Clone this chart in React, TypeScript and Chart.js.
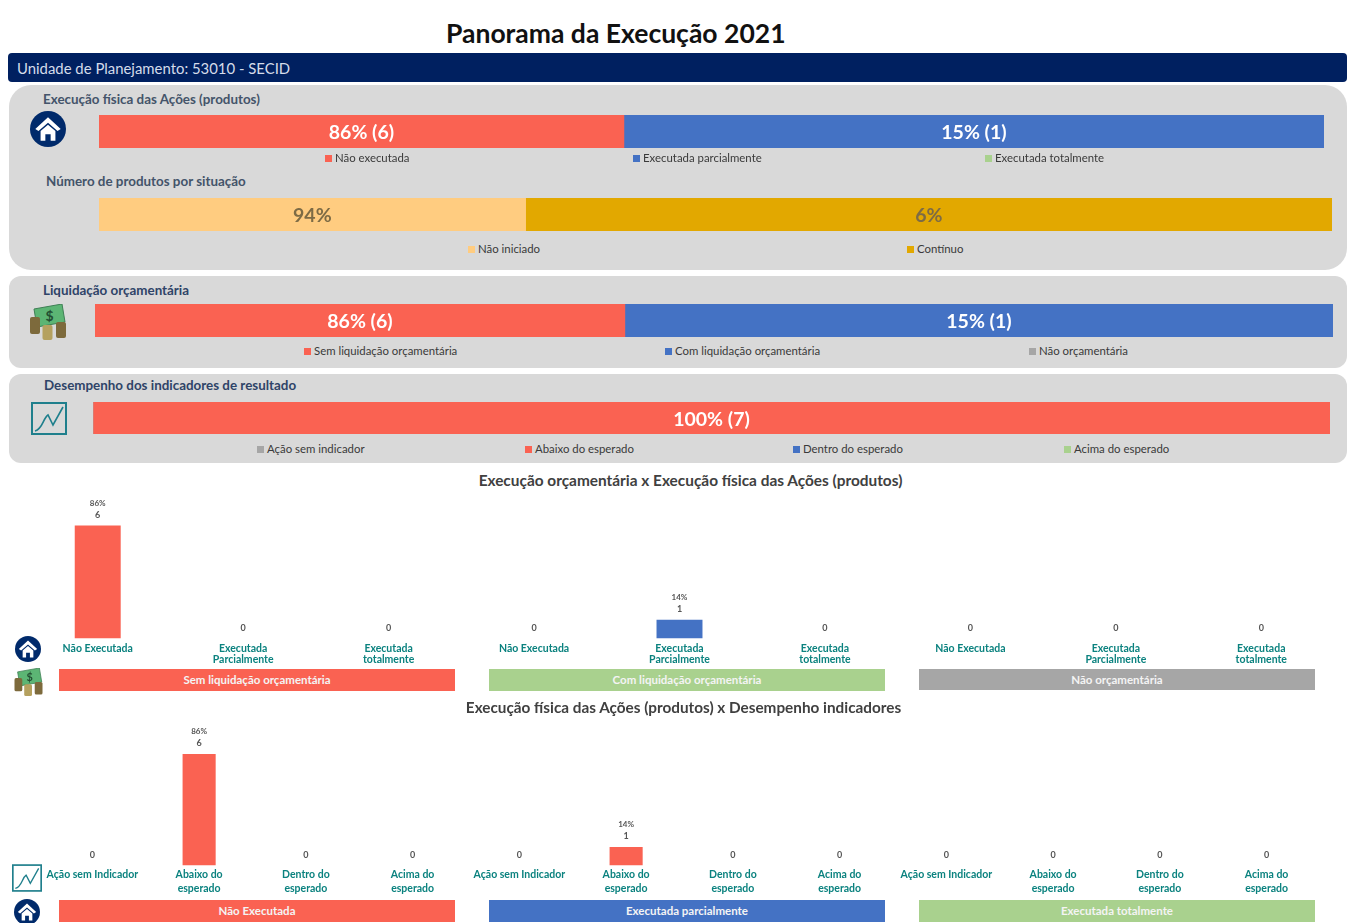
import React, { useEffect, useRef } from "react";
import { Chart, registerables } from "chart.js";

Chart.register(...registerables);

const FONT = "Lato, 'Open Sans', sans-serif";
const RED = "#fa6252";
const BLUE = "#4472c4";
const GREEN = "#a9d18e";
const GREY = "#a6a6a6";
const PALE = "#ffcc80";
const AMBER = "#e2a800";

// Stacked bars: the drawn lengths (they do not follow the printed percentages)
const execNames = ["Não executada", "Executada parcialmente", "Executada totalmente"];
const execLengths = [42.85, 57.15, 0];
const execLabels = ["86% (6)", "15% (1)", ""];

const statusNames = ["Não iniciado", "Contínuo"];
const statusLengths = [34.6, 65.4];
const statusLabels = ["94%", "6%"];

const liquidNames = ["Sem liquidação orçamentária", "Com liquidação orçamentária", "Não orçamentária"];
const liquidLengths = [42.8, 57.2, 0];
const liquidLabels = ["86% (6)", "15% (1)", ""];

const indicatorNames = ["Ação sem indicador", "Abaixo do esperado", "Dentro do esperado", "Acima do esperado"];
const indicatorLengths = [0, 100, 0, 0];
const indicatorLabels = ["", "100% (7)", "", ""];

// First column chart
const budgetCategories = [
  ["Não Executada"], ["Executada", "Parcialmente"], ["Executada", "totalmente"],
  ["Não Executada"], ["Executada", "Parcialmente"], ["Executada", "totalmente"],
  ["Não Executada"], ["Executada", "Parcialmente"], ["Executada", "totalmente"],
];
const budgetValues = [6, 0, 0, 0, 1, 0, 0, 0, 0];
const budgetPercents = ["86%", "", "", "", "14%", "", "", "", ""];
const budgetColors = [RED, RED, RED, BLUE, BLUE, BLUE, GREY, GREY, GREY];
const budgetGroups = ["Sem liquidação orçamentária", "Com liquidação orçamentária", "Não orçamentária"];

// Second column chart
const physicalCategories = [
  ["Ação sem Indicador"], ["Abaixo do", "esperado"], ["Dentro do", "esperado"], ["Acima do", "esperado"],
  ["Ação sem Indicador"], ["Abaixo do", "esperado"], ["Dentro do", "esperado"], ["Acima do", "esperado"],
  ["Ação sem Indicador"], ["Abaixo do", "esperado"], ["Dentro do", "esperado"], ["Acima do", "esperado"],
];
const physicalValues = [0, 6, 0, 0, 0, 1, 0, 0, 0, 0, 0, 0];
const physicalPercents = ["", "86%", "", "", "", "14%", "", "", "", "", "", ""];
const physicalGroups = ["Não Executada", "Executada parcialmente", "Executada totalmente"];

const segmentTextPlugin = {
  id: "segmentText",
  afterDatasetsDraw(chart: any, _a: any, opts: any) {
    const { ctx } = chart;
    ctx.save();
    ctx.font = `bold ${opts.size}px ${FONT}`;
    ctx.fillStyle = opts.color;
    ctx.textAlign = "center";
    ctx.textBaseline = "middle";
    chart.data.datasets.forEach((_d: any, i: number) => {
      const text = opts.labels[i];
      if (!text) return;
      const bar = chart.getDatasetMeta(i).data[0];
      ctx.fillText(text, (bar.x + bar.base) / 2, bar.y + 1.5);
    });
    ctx.restore();
  },
};

const columnTextPlugin = {
  id: "columnText",
  afterDatasetsDraw(chart: any, _a: any, opts: any) {
    const { ctx } = chart;
    ctx.save();
    ctx.textAlign = "center";
    ctx.textBaseline = "middle";
    ctx.fillStyle = "#555555";
    chart.getDatasetMeta(0).data.forEach((bar: any, i: number) => {
      const v = chart.data.datasets[0].data[i];
      ctx.font = `bold 9px ${FONT}`;
      ctx.fillText(String(v), bar.x, bar.y - 10.5);
      if (opts.percents[i]) {
        ctx.font = `bold 8px ${FONT}`;
        ctx.fillText(opts.percents[i], bar.x, bar.y - 22.5);
      }
    });
    ctx.restore();
  },
};

function StackedBar({ box, names, lengths, colors, labels, labelColor }: any) {
  const ref = useRef<HTMLCanvasElement>(null);
  useEffect(() => {
    const chart = new Chart(ref.current!, {
      type: "bar",
      data: {
        labels: [""],
        datasets: names.map((n: string, i: number) => ({
          label: n,
          data: [lengths[i]],
          backgroundColor: colors[i],
          barPercentage: 1,
          categoryPercentage: 1,
        })),
      },
      options: {
        indexAxis: "y",
        animation: false,
        responsive: false,
        layout: { padding: 0 },
        scales: {
          x: { display: false, stacked: true, min: 0, max: 100 },
          y: { display: false, stacked: true },
        },
        plugins: {
          legend: { display: false },
          tooltip: { enabled: false },
          segmentText: { labels, color: labelColor, size: 19.5 },
        },
      } as any,
      plugins: [segmentTextPlugin],
    });
    return () => chart.destroy();
  }, []);
  return (
    <canvas
      ref={ref}
      width={box[2]}
      height={box[3]}
      style={{ position: "absolute", left: box[0], top: box[1], width: box[2], height: box[3] }}
    />
  );
}

function ColumnChart({ box, categories, values, percents, colors, barPct, max, axisHeight, tickPad, tickLine }: any) {
  const ref = useRef<HTMLCanvasElement>(null);
  useEffect(() => {
    const chart = new Chart(ref.current!, {
      type: "bar",
      data: {
        labels: categories,
        datasets: [
          {
            data: values,
            backgroundColor: colors,
            barPercentage: barPct,
            categoryPercentage: 1,
          },
        ],
      },
      options: {
        animation: false,
        responsive: false,
        layout: { padding: 0 },
        scales: {
          x: {
            offset: true,
            grid: { display: false, drawTicks: false },
            border: { display: false },
            afterFit: (s: any) => { s.height = axisHeight; },
            ticks: {
              autoSkip: false,
              maxRotation: 0,
              minRotation: 0,
              padding: tickPad,
              color: "#0b827f",
              font: { family: FONT, size: 10.5, weight: "bold", lineHeight: tickLine },
            },
          },
          y: { display: false, min: 0, max },
        },
        plugins: {
          legend: { display: false },
          tooltip: { enabled: false },
          columnText: { percents },
        },
      } as any,
      plugins: [columnTextPlugin],
    });
    return () => chart.destroy();
  }, []);
  return (
    <canvas
      ref={ref}
      width={box[2]}
      height={box[3]}
      style={{ position: "absolute", left: box[0], top: box[1], width: box[2], height: box[3] }}
    />
  );
}

function T({ x, y, children, size = 13.4, color = "#44546a", bold = true, w, center }: any) {
  return (
    <div
      style={{
        position: "absolute",
        left: x,
        top: y - 12,
        width: w,
        height: 24,
        lineHeight: "24px",
        fontSize: size,
        fontWeight: bold ? 700 : 400,
        color,
        whiteSpace: "nowrap",
        textAlign: center ? "center" : "left",
      }}
    >
      {children}
    </div>
  );
}

function Legend({ y, squares, names, colors }: any) {
  return (
    <>
      {names.map((n: string, i: number) => (
        <React.Fragment key={n}>
          <div style={{ position: "absolute", left: squares[i], top: y - 3, width: 7, height: 7, background: colors[i] }} />
          <T x={squares[i] + 10} y={y} size={11.4} color="#3a3a3a" bold={false}>{n}</T>
        </React.Fragment>
      ))}
    </>
  );
}

function Panel({ y, h, r }: any) {
  return <div style={{ position: "absolute", left: 9, top: y, width: 1338, height: h, background: "#d9d9d9", borderRadius: r }} />;
}

function Band({ x, y, h, color, text }: any) {
  return (
    <div
      style={{
        position: "absolute", left: x, top: y, width: 396, height: h, background: color,
        color: "#f4f4f4", fontSize: 11.5, fontWeight: 700, textAlign: "center", lineHeight: `${h}px`,
      }}
    >
      {text}
    </div>
  );
}

function House({ cx, cy, r }: any) {
  return (
    <svg style={{ position: "absolute", left: cx - r, top: cy - r }} width={r * 2} height={r * 2} viewBox="0 0 34 34">
      <circle cx="17" cy="17" r="17" fill="#002a6b" />
      <path d="M17 6 L29 17 L26 19 L17 11 L8 19 L5 17 Z" fill="#fff" />
      <path d="M10 19 L17 13 L24 19 V28 H19.5 V22 H14.5 V28 H10 Z" fill="#fff" />
    </svg>
  );
}

function Money({ x, y, w, h }: any) {
  return (
    <svg style={{ position: "absolute", left: x, top: y }} width={w} height={h} viewBox="0 0 38 36">
      <path d="M5 5 L33 0 L36 18 L8 23 Z" fill="#5cb574" stroke="#3f7f55" strokeWidth="1" />
      <text x="20.5" y="16.5" fontSize="14" fontWeight="700" fill="#234f33" textAnchor="middle" fontFamily={FONT}>$</text>
      <rect x="1" y="13" width="10" height="17" rx="2" fill="#7d6a3c" />
      <rect x="13.5" y="21" width="10" height="15" rx="2" fill="#b5a15f" />
      <rect x="27" y="18" width="10" height="16" rx="2" fill="#7d6a3c" />
    </svg>
  );
}

function LineIcon({ x, y, w, h }: any) {
  return (
    <svg style={{ position: "absolute", left: x, top: y }} width={w} height={h} viewBox="0 0 36 33">
      <rect x="1" y="1" width="34" height="31" fill="none" stroke="#1f7f8c" strokeWidth="2" />
      <path d="M4 29 C12 27 12 16 17 13 L22 23 L32 5" fill="none" stroke="#1f7f8c" strokeWidth="1.6" />
    </svg>
  );
}

export default function App() {
  useEffect(() => {
    document.body.style.margin = "0";
  }, []);
  return (
    <div style={{ position: "relative", width: 1347, height: 923, overflow: "hidden", background: "#fff", fontFamily: FONT }}>
      <T x={446} y={32.5} size={26.5} color="#111111">Panorama da Execução 2021</T>
      <div style={{ position: "absolute", left: 8, top: 53, width: 1339, height: 29, background: "#002060", borderRadius: 4 }} />
      <T x={17} y={67.5} size={14.9} color="#d5dcea" bold={false}>Unidade de Planejamento: 53010 - SECID</T>

      <Panel y={85} h={185} r={22} />
      <Panel y={276} h={92} r={12} />
      <Panel y={374} h={89} r={12} />

      <T x={43} y={99}>Execução física das Ações (produtos)</T>
      <House cx={48} cy={129} r={18} />
      <StackedBar box={[99, 115, 1225, 33]} names={execNames} lengths={execLengths} colors={[RED, BLUE, GREEN]} labels={execLabels} labelColor="#ffffff" />
      <Legend y={158} squares={[325, 633, 985]} names={execNames} colors={[RED, BLUE, GREEN]} />

      <T x={46} y={181}>Número de produtos por situação</T>
      <StackedBar box={[99, 198, 1233, 33]} names={statusNames} lengths={statusLengths} colors={[PALE, AMBER]} labels={statusLabels} labelColor="#7d6b45" />
      <Legend y={249} squares={[468, 907]} names={statusNames} colors={[PALE, AMBER]} />

      <T x={43} y={290} color="#2f4468">Liquidação orçamentária</T>
      <Money x={29} y={304} w={38} h={36} />
      <StackedBar box={[95, 304, 1238, 33]} names={liquidNames} lengths={liquidLengths} colors={[RED, BLUE, GREY]} labels={liquidLabels} labelColor="#ffffff" />
      <Legend y={351} squares={[304, 665, 1029]} names={liquidNames} colors={[RED, BLUE, GREY]} />

      <T x={44} y={385} color="#2f4468">Desempenho dos indicadores de resultado</T>
      <LineIcon x={31} y={402} w={36} h={33} />
      <StackedBar box={[93, 402, 1237, 32]} names={indicatorNames} lengths={indicatorLengths} colors={[GREY, RED, BLUE, GREEN]} labels={indicatorLabels} labelColor="#ffffff" />
      <Legend y={449} squares={[257, 525, 793, 1064]} names={indicatorNames} colors={[GREY, RED, BLUE, GREEN]} />

      <T x={0} w={1381} center y={480} size={15.4} color="#404040">Execução orçamentária x Execução física das Ações (produtos)</T>
      <ColumnChart box={[25, 495, 1309, 174]} categories={budgetCategories} values={budgetValues} percents={budgetPercents} colors={budgetColors} barPct={0.316} max={7.62} axisHeight={30.5} tickPad={5} tickLine={1.05} />
      <House cx={28} cy={649} r={13} />
      <Money x={13} y={668} w={31} h={28} />
      <Band x={59} y={669} h={22} color={RED} text={budgetGroups[0]} />
      <Band x={489} y={669} h={22} color={GREEN} text={budgetGroups[1]} />
      <Band x={919} y={669} h={21} color={GREY} text={budgetGroups[2]} />

      <T x={0} w={1367} center y={707} size={15.3} color="#404040">Execução física das Ações (produtos) x Desempenho indicadores</T>
      <ColumnChart box={[39, 722, 1281, 178]} categories={physicalCategories} values={physicalValues} percents={physicalPercents} colors={physicalValues.map(() => RED)} barPct={0.31} max={7.72} axisHeight={34.5} tickPad={3} tickLine={1.25} />
      <LineIcon x={12} y={864} w={30} h={28} />
      <House cx={27} cy={912} r={13} />
      <Band x={59} y={900} h={22} color={RED} text={physicalGroups[0]} />
      <Band x={489} y={900} h={22} color={BLUE} text={physicalGroups[1]} />
      <Band x={919} y={900} h={22} color={GREEN} text={physicalGroups[2]} />
    </div>
  );
}
